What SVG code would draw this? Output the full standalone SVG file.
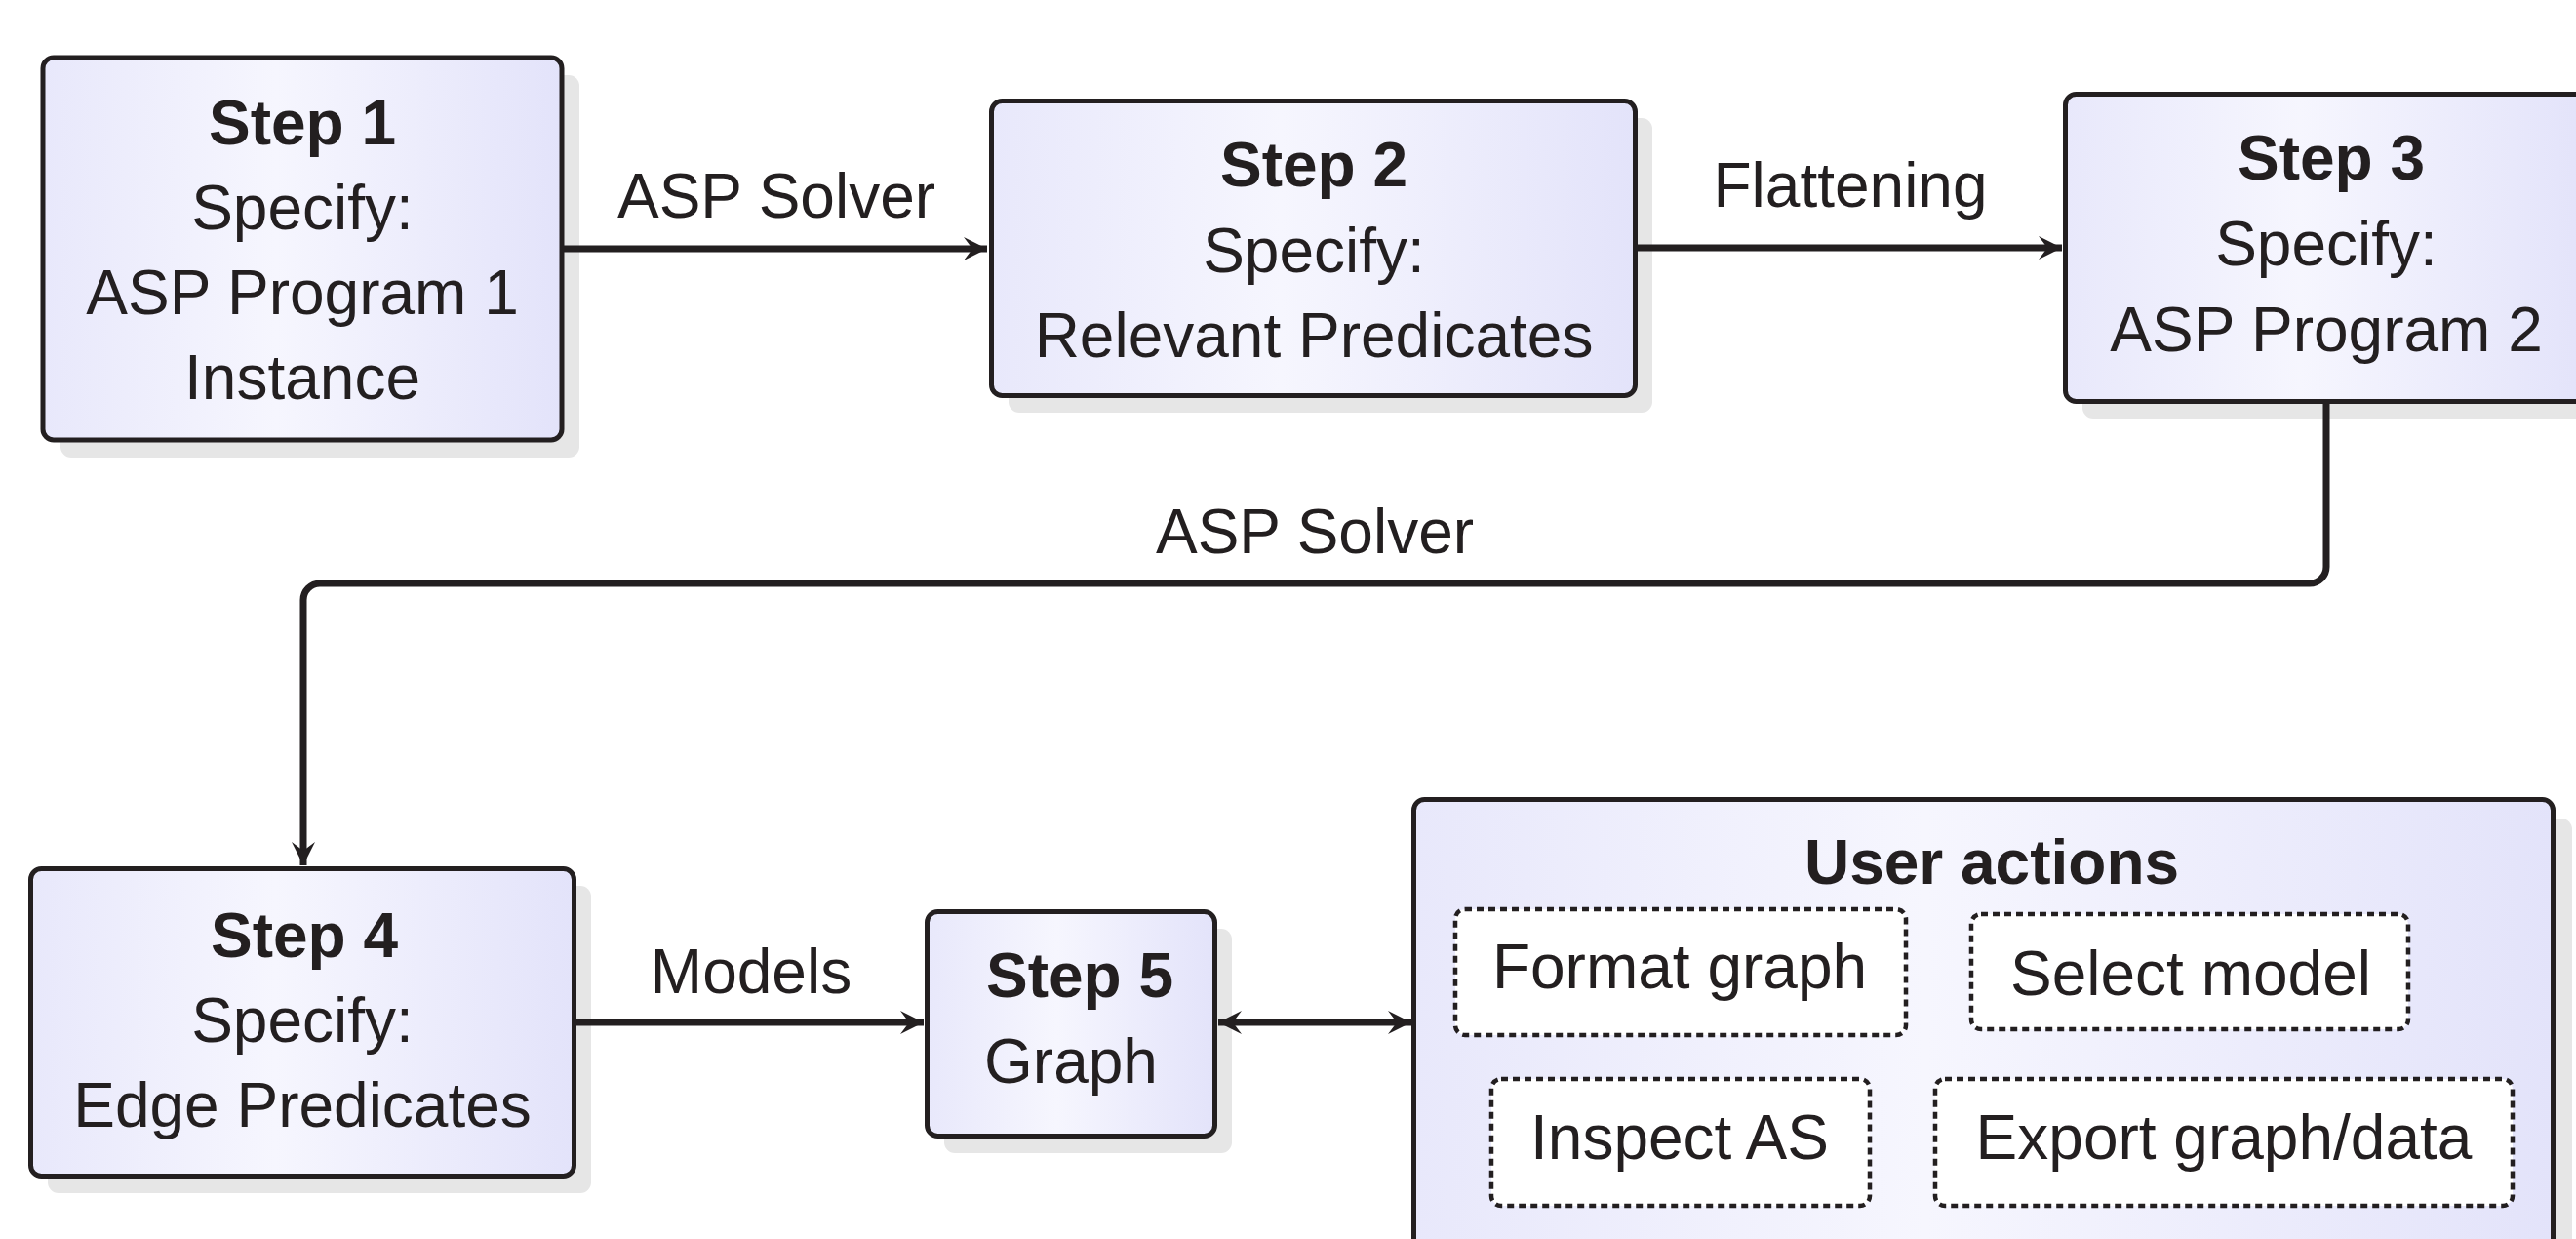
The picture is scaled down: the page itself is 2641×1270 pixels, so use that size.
<svg xmlns="http://www.w3.org/2000/svg" width="2641" height="1270" viewBox="0 0 2641 1270">
<defs>
<linearGradient id="fillGrad" x1="0" y1="0" x2="1" y2="0">
<stop offset="0" stop-color="#e8e8fb"/>
<stop offset="0.45" stop-color="#f6f6fe"/>
<stop offset="1" stop-color="#e3e3fa"/>
</linearGradient>
<marker id="arrow" viewBox="-26 -14 28 28" refX="0" refY="0" markerWidth="28" markerHeight="28" markerUnits="userSpaceOnUse" orient="auto-start-reverse">
<path d="M0,0 L-24,-12 L-15,0 L-24,12 Z" fill="#231f20"/>
</marker>
</defs>
<style>
.shadow { fill: #e6e6e6; }
.box { fill: url(#fillGrad); stroke: #231f20; stroke-width: 5; }
.action { fill: #ffffff; stroke: #231f20; stroke-width: 4.5; stroke-dasharray: 7 5; }
.conn { fill: none; stroke: #231f20; stroke-width: 7; }
text { font-family: "Liberation Sans", Arial, Helvetica, sans-serif; font-size: 64px; fill: #231f20; text-anchor: middle; }
.b { font-weight: bold; }
</style>
<rect width="2641" height="1270" fill="#ffffff"/>

<g id="step1">
<rect class="shadow" x="62" y="77" width="532" height="392" rx="11"/>
<rect class="box" x="44" y="59" width="532" height="392" rx="11"/>
<text class="b" x="310" y="148">Step 1</text>
<text x="310" y="235">Specify:</text>
<text x="310" y="322">ASP Program 1</text>
<text x="310" y="409">Instance</text>
</g>

<g id="step2">
<rect class="shadow" x="1034" y="121" width="660" height="302" rx="11"/>
<rect class="box" x="1016.5" y="103.5" width="660" height="302" rx="11"/>
<text class="b" x="1347" y="191">Step 2</text>
<text x="1347" y="279">Specify:</text>
<text x="1347" y="366">Relevant Predicates</text>
</g>

<g id="step3">
<rect class="shadow" x="2135" y="114" width="535" height="315" rx="11"/>
<rect class="box" x="2117.5" y="96.5" width="535" height="315" rx="11"/>
<text class="b" x="2390" y="184">Step 3</text>
<text x="2385" y="272">Specify:</text>
<text x="2385" y="360">ASP Program 2</text>
</g>

<g id="step4">
<rect class="shadow" x="49" y="908" width="557" height="315" rx="11"/>
<rect class="box" x="31.5" y="890.5" width="557" height="315" rx="11"/>
<text class="b" x="312" y="981">Step 4</text>
<text x="310" y="1068">Specify:</text>
<text x="310" y="1155">Edge Predicates</text>
</g>

<g id="step5">
<rect class="shadow" x="968" y="952" width="295" height="230" rx="11"/>
<rect class="box" x="950.5" y="934.5" width="295" height="230" rx="11"/>
<text class="b" x="1107" y="1022">Step 5</text>
<text x="1098" y="1110">Graph</text>
</g>

<g id="user-actions">
<rect class="shadow" x="1469" y="839" width="1168" height="500" rx="11"/>
<rect class="box" x="1449.5" y="819.5" width="1168" height="500" rx="11"/>
<text class="b" x="2042" y="906">User actions</text>
<g id="format-graph">
<rect class="action" x="1492" y="932" width="462" height="129" rx="10"/>
<text x="1722" y="1013">Format graph</text>
</g>
<g id="select-model">
<rect class="action" x="2021" y="937" width="448" height="118" rx="10"/>
<text x="2246" y="1020">Select model</text>
</g>
<g id="inspect-as">
<rect class="action" x="1529" y="1106" width="388" height="130" rx="10"/>
<text x="1722" y="1188">Inspect AS</text>
</g>
<g id="export">
<rect class="action" x="1984" y="1106" width="592" height="130" rx="10"/>
<text x="2280" y="1188">Export graph/data</text>
</g>
</g>

<g id="connectors">
<path class="conn" d="M578,255 L1012,255" marker-end="url(#arrow)"/>
<text x="796" y="223">ASP Solver</text>
<path class="conn" d="M1679,254 L2114,254" marker-end="url(#arrow)"/>
<text x="1897" y="212">Flattening</text>
<path class="conn" d="M2385,414 V581 A17,17 0 0 1 2368,598 H328 A17,17 0 0 0 311,615 V887" marker-end="url(#arrow)"/>
<text x="1348" y="567">ASP Solver</text>
<path class="conn" d="M591,1048 L947,1048" marker-end="url(#arrow)"/>
<text x="770" y="1018">Models</text>
<path class="conn" d="M1249,1048 L1447,1048" marker-start="url(#arrow)" marker-end="url(#arrow)"/>
</g>
</svg>
